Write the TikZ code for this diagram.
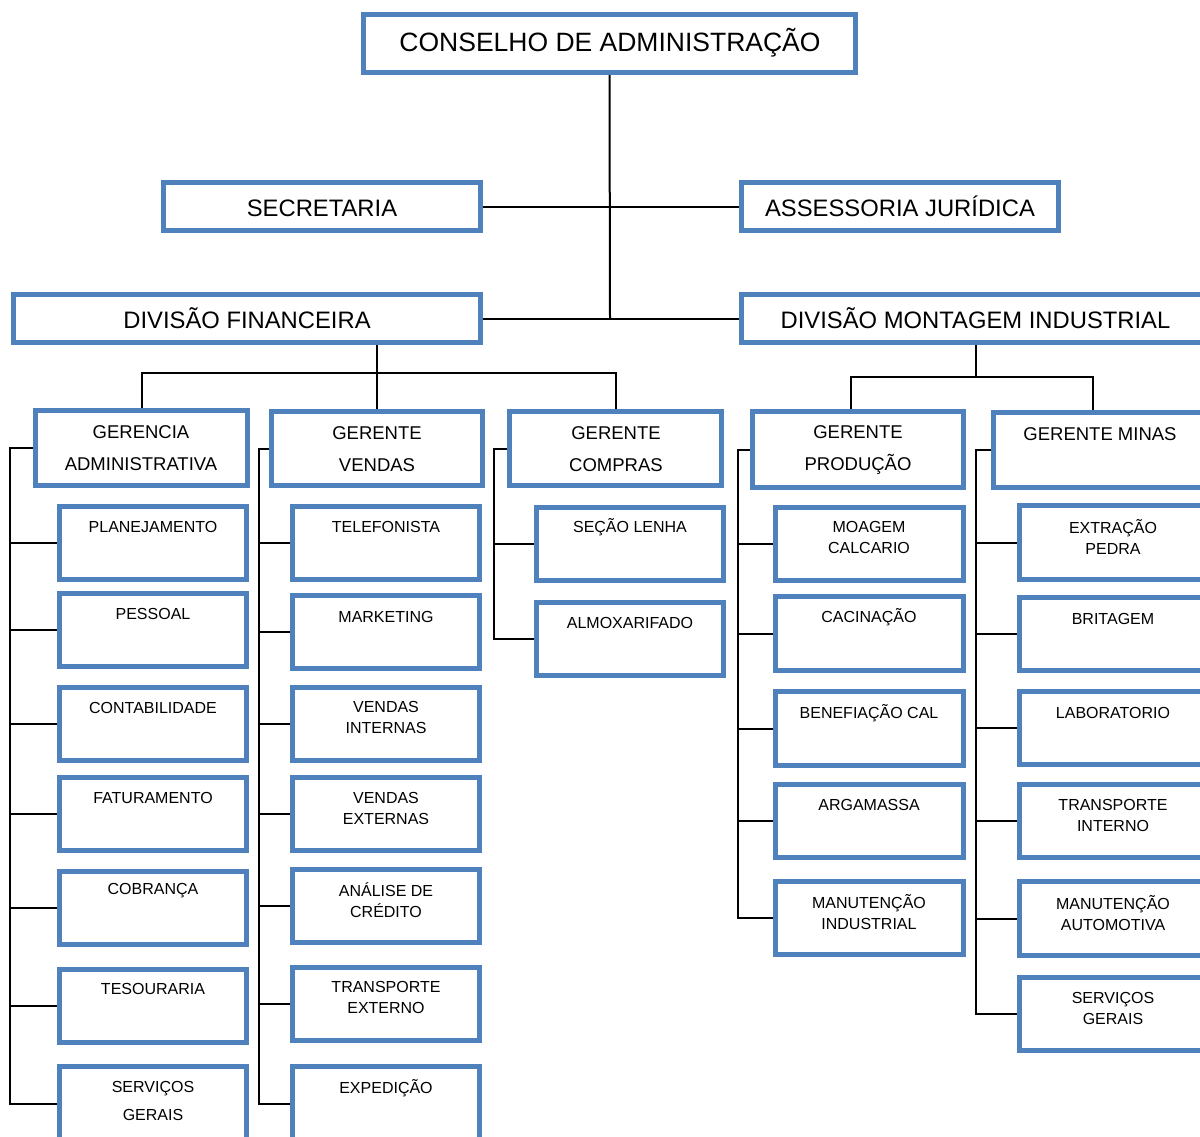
\documentclass[tikz,border=0pt]{standalone}
\usepackage{fontspec}
\setmainfont{Liberation Sans}
\usetikzlibrary{fit}
\definecolor{boxblue}{HTML}{4F81BD}
\tikzset{
  x=1pt, y=-1pt,
  boxst/.style={draw=boxblue, line width=5.5pt, fill=white, inner sep=0pt, outer sep=0pt, rectangle},
  conn/.style={draw=black, line width=2pt},
  bigtxt/.style={font=\fontsize{26.5}{30}\selectfont, inner sep=0pt, anchor=center},
  midtxt/.style={font=\fontsize{23.8}{28}\selectfont, inner sep=0pt, anchor=center},
  gtxt/.style={font=\fontsize{18.5}{32}\selectfont, inner sep=0pt, anchor=center, align=center},
  ltxt/.style={font=\fontsize{16}{21}\selectfont, inner sep=0pt, anchor=center, align=center},
  ltxtw/.style={font=\fontsize{16}{28}\selectfont, inner sep=0pt, anchor=center, align=center},
}
\newcommand\obox[5]{\node[boxst, fit={(#2,#3)(#4,#5)}] (#1) {};}
\begin{document}
\begin{tikzpicture}
\useasboundingbox (0,0) rectangle (1200,1137);
% ---------- coordinates for connectors ----------
\coordinate (c1) at (610,318.5);
\coordinate (b1) at (377,373);
\coordinate (b2) at (976,377);
\coordinate (d4) at (851,377);
\coordinate (d5) at (1093,377);
\coordinate (t1) at (10,448);
\coordinate (t2) at (259,448.5);
\coordinate (t3) at (494,448.5);
\coordinate (t4) at (738,449.5);
\coordinate (t5) at (976,450);
% ---------- boxes ----------
\obox{cons}{363.5}{14.5}{855.5}{72.5}
\obox{sec}{163.5}{182.5}{480.5}{230.5}
\obox{ass}{741.5}{182.5}{1058.5}{230.5}
\obox{divfin}{13.5}{294.5}{480.5}{342.5}
\obox{divmont}{741.5}{294.5}{1215}{342.5}
\obox{ga}{35.5}{410.5}{247.5}{485.5}
\obox{gv}{271.5}{411.5}{482.5}{485.5}
\obox{gc}{509.5}{411.5}{721.5}{485.5}
\obox{gp}{752.5}{411.5}{963.5}{487.5}
\obox{gm}{993.5}{412.5}{1215}{487.5}
% column 1
\obox{a1}{59.5}{506.5}{246.5}{579.5}
\obox{a2}{59.5}{593.5}{246.5}{666.5}
\obox{a3}{59.5}{687.5}{246.5}{760.5}
\obox{a4}{59.5}{777.5}{246.5}{850.5}
\obox{a5}{59.5}{871.5}{246.5}{944.5}
\obox{a6}{59.5}{969.5}{246.5}{1042.5}
\obox{a7}{59.5}{1066.5}{246.5}{1141.5}
% column 2
\obox{v1}{292.5}{506.5}{479.5}{579.5}
\obox{v2}{292.5}{595.5}{479.5}{668.5}
\obox{v3}{292.5}{687.5}{479.5}{760.5}
\obox{v4}{292.5}{777.5}{479.5}{850.5}
\obox{v5}{292.5}{869.5}{479.5}{942.5}
\obox{v6}{292.5}{967.5}{479.5}{1040.5}
\obox{v7}{292.5}{1066.5}{479.5}{1141.5}
% column 3
\obox{c31}{536.5}{507.5}{723.5}{580.5}
\obox{c32}{536.5}{602.5}{723.5}{675.5}
% column 4
\obox{p1}{775.5}{507.5}{963.5}{580.5}
\obox{p2}{775.5}{596.5}{963.5}{670.5}
\obox{p3}{775.5}{691.5}{963.5}{765.5}
\obox{p4}{775.5}{784.5}{963.5}{857.5}
\obox{p5}{775.5}{881.5}{963.5}{954.5}
% column 5
\obox{m1}{1019.5}{505.5}{1215}{579.5}
\obox{m2}{1019.5}{597.5}{1215}{670.5}
\obox{m3}{1019.5}{691.5}{1215}{764.5}
\obox{m4}{1019.5}{784.5}{1215}{857.5}
\obox{m5}{1019.5}{881.5}{1215}{955.5}
\obox{m6}{1019.5}{977.5}{1215}{1050.5}
% ---------- connectors ----------
\draw[conn] (cons.south) -- (c1);
\draw[conn] (sec.east) -- (ass.west);
\draw[conn] (divfin.east) -- (divmont.west);
\draw[conn] (b1 |- divfin.south) -- (b1);
\draw[conn] (ga.north) |- (b1);
\draw[conn] (gc.north) |- (b1);
\draw[conn] (b1) -- (gv.north);
\draw[conn] (b2 |- divmont.south) -- (b2);
\draw[conn] (d4 |- gp.north) -- (d4) -- (d5) -- (d5 |- gm.north);
% column trunks
\draw[conn] (ga.west) -- (t1) |- (a7.west);
\foreach \n in {a1,a2,a3,a4,a5,a6} \draw[conn] (t1 |- \n.west) -- (\n.west);
\draw[conn] (gv.west) -- (t2) |- (v7.west);
\foreach \n in {v1,v2,v3,v4,v5,v6} \draw[conn] (t2 |- \n.west) -- (\n.west);
\draw[conn] (gc.west) -- (t3) |- (c32.west);
\draw[conn] (t3 |- c31.west) -- (c31.west);
\draw[conn] (gp.west) -- (t4) |- (p5.west);
\foreach \n in {p1,p2,p3,p4} \draw[conn] (t4 |- \n.west) -- (\n.west);
\draw[conn] (gm.west) -- (t5) |- (m6.west);
\foreach \n in {m1,m2,m3,m4,m5} \draw[conn] (t5 |- \n.west) -- (\n.west);
% redraw box borders on top of connector ends
\foreach \n in {cons,sec,ass,divfin,divmont,ga,gv,gc,gp,gm,a1,a2,a3,a4,a5,a6,a7,v1,v2,v3,v4,v5,v6,v7,c31,c32,p1,p2,p3,p4,p5,m1,m2,m3,m4,m5,m6}
  \draw[draw=boxblue, line width=5.5pt] (\n.north west) rectangle (\n.south east);
% ---------- texts ----------
\node[bigtxt] (consT) at (610,43) {CONSELHO DE ADMINISTRAÇÃO};
\node[midtxt] (secT) at (322,208.5) {SECRETARIA};
\node[midtxt] (assT) at (900,206.5) {ASSESSORIA JURÍDICA};
\node[midtxt] (divfinT) at (247,318.5) {DIVISÃO FINANCEIRA};
\node[midtxt] (divmontT) at (975.5,318.5) {DIVISÃO MONTAGEM INDUSTRIAL};
\node[gtxt] (gaT) at (141,448) {GERENCIA\\ADMINISTRATIVA};
\node[gtxt] (gvT) at (377,449) {GERENTE\\VENDAS};
\node[gtxt] (gcT) at (616,449) {GERENTE\\COMPRAS};
\node[gtxt] (gpT) at (858,450) {GERENTE\\PRODUÇÃO};
\node[gtxt] (gmT) at (1100,434) {GERENTE MINAS};
% column 1
\node[ltxt] (a1T) at (153,527) {PLANEJAMENTO};
\node[ltxt] (a2T) at (153,614) {PESSOAL};
\node[ltxt] (a3T) at (153,708) {CONTABILIDADE};
\node[ltxt] (a4T) at (153,798) {FATURAMENTO};
\node[ltxt] (a5T) at (153,891) {COBRANÇA};
\node[ltxt] (a6T) at (153,989) {TESOURARIA};
\node[ltxtw] (a7T) at (153,1101) {SERVIÇOS\\GERAIS};
% column 2
\node[ltxt] (v1T) at (386,527) {TELEFONISTA};
\node[ltxt] (v2T) at (386,617) {MARKETING};
\node[ltxt] (v3T) at (386,717.5) {VENDAS\\INTERNAS};
\node[ltxt] (v4T) at (386,808.5) {VENDAS\\EXTERNAS};
\node[ltxt] (v5T) at (386,900.5) {ANÁLISE DE\\CRÉDITO};
\node[ltxt] (v6T) at (386,997.5) {TRANSPORTE\\EXTERNO};
\node[ltxt] (v7T) at (386,1088) {EXPEDIÇÃO};
% column 3
\node[ltxt] (c31T) at (630,527) {SEÇÃO LENHA};
\node[ltxt] (c32T) at (630,623) {ALMOXARIFADO};
% column 4
\node[ltxt] (p1T) at (869,537.5) {MOAGEM\\CALCARIO};
\node[ltxt] (p2T) at (869,617) {CACINAÇÃO};
\node[ltxt] (p3T) at (869,713) {BENEFIAÇÃO CAL};
\node[ltxt] (p4T) at (869,805) {ARGAMASSA};
\node[ltxt] (p5T) at (869,912.5) {MANUTENÇÃO\\INDUSTRIAL};
% column 5
\node[ltxt] (m1T) at (1113,536.5) {EXTRAÇÃO\\PEDRA};
\node[ltxt] (m2T) at (1113,619) {BRITAGEM};
\node[ltxt] (m3T) at (1113,713) {LABORATORIO};
\node[ltxt] (m4T) at (1113,815.5) {TRANSPORTE\\INTERNO};
\node[ltxt] (m5T) at (1113,913.5) {MANUTENÇÃO\\AUTOMOTIVA};
\node[ltxt] (m6T) at (1113,1008.5) {SERVIÇOS\\GERAIS};
\end{tikzpicture}
\end{document}
